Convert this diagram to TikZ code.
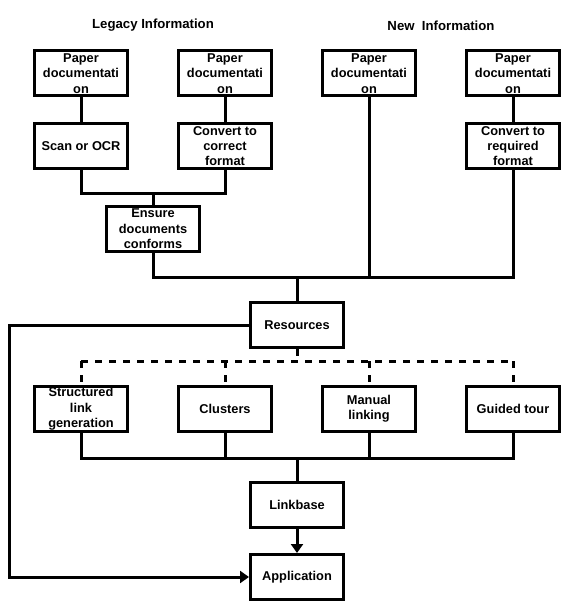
\documentclass[tikz,border=0pt]{standalone}
\usepackage{fontspec}
\setmainfont{Liberation Sans}
\usetikzlibrary{arrows.meta}
\begin{document}
\begin{tikzpicture}[x=1pt,y=-1pt,
  box/.style={draw,line width=3pt,minimum width=93pt,minimum height=45pt,inner sep=0pt,
    align=center,font=\fontsize{12.8}{15.4}\selectfont\bfseries},
  title/.style={font=\fontsize{13.2}{16}\selectfont\bfseries},
  wire/.style={line width=3pt},
  dwire/.style={line width=3pt,dash pattern=on 7pt off 7pt},
  tip/.style={-{Triangle[width=12pt,length=9pt]}}]
\useasboundingbox (0,0) rectangle (569,609);
\node[title] (tl) at (153,25.5) {Legacy Information};
\node[title] (tn) at (441,25.5) {New\ \ Information};
\node[box] (p1) at (81,73.5) {Paper\\documentati\\on};
\node[box] (p2) at (225,73.5) {Paper\\documentati\\on};
\node[box] (p3) at (369,73.5) {Paper\\documentati\\on};
\node[box] (p4) at (513,73.5) {Paper\\documentati\\on};
\node[box] (scan) at (81,146) {Scan or OCR};
\node[box] (c1) at (225,146) {Convert to\\correct\\format};
\node[box] (c2) at (513,146) {Convert to\\required\\format};
\node[box] (ens) at (153,229) {Ensure\\documents\\conforms};
\node[box] (res) at (297,325) {Resources};
\node[box] (s1) at (81,409) {Structured\\link\\generation};
\node[box] (s2) at (225,409) {Clusters};
\node[box] (s3) at (369,409) {Manual\\linking};
\node[box] (s4) at (513,409) {Guided tour};
\node[box] (lb) at (297,505) {Linkbase};
\node[box] (app) at (297,577) {Application};
\coordinate (b1) at (153,194);
\coordinate (b2) at (297,277);
\coordinate (b3) at (297,361);
\coordinate (b4) at (297,458);
\coordinate (lc) at (9,325);
% top legacy
\draw[wire] (p1) -- (scan);
\draw[wire] (p2) -- (c1);
\draw[wire] (p4) -- (c2);
\draw[wire] (scan.south) -- (scan.south |- b1) -- (c1.south |- b1) -- (c1.south);
\draw[wire] (ens.north) -- (b1);
\draw[wire] (ens.south) -- (ens.south |- b2) -- (c2.south |- b2) -- (c2.south);
\draw[wire] (p3.south) -- (p3.south |- b2);
\draw[wire] (res.north) -- (b2);
% dashed
\draw[dwire] (res.south) -- (b3);
\draw[dwire] (s1.north |- b3) -- (s4.north |- b3);
\foreach \n in {s1,s2,s3,s4} \draw[dwire] (\n.north |- b3) -- (\n.north);
% bottom bus
\draw[wire] (s1.south) -- (s1.south |- b4) -- (s4.south |- b4) -- (s4.south);
\draw[wire] (s2.south) -- (s2.south |- b4);
\draw[wire] (s3.south) -- (s3.south |- b4);
\draw[wire] (b4) -- (lb.north);
\draw[wire,tip] (lb) -- (app);
\draw[wire,tip] (res.west) -- (lc) -- (lc |- app.west) -- (app.west);
\end{tikzpicture}
\end{document}
